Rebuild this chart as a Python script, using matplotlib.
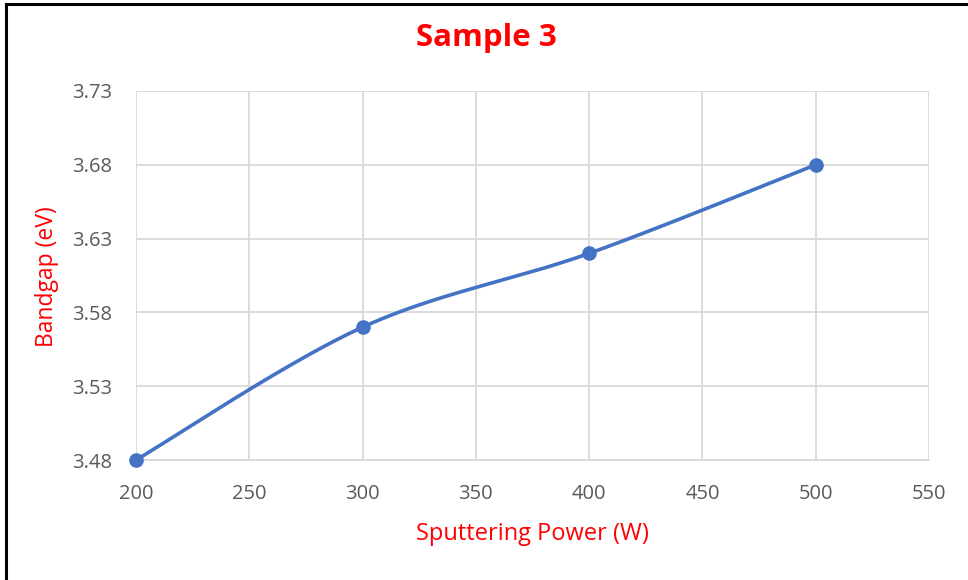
import numpy as np
import matplotlib
matplotlib.use("Agg")
import matplotlib.pyplot as plt
from matplotlib.lines import Line2D

# Data
power_w = [200, 300, 400, 500]
bandgap_ev = [3.48, 3.57, 3.62, 3.68]
x_ticks = [200, 250, 300, 350, 400, 450, 500, 550]
y_ticks = [3.48, 3.53, 3.58, 3.63, 3.68, 3.73]

plt.rcParams['font.family'] = ['Open Sans', 'DejaVu Sans']


def smooth_curve(x, y, steps=60):
    """Catmull-Rom style Bezier smoothing through every point."""
    x = np.asarray(x, float)
    y = np.asarray(y, float)
    n = len(x)
    xs, ys = [], []
    for i in range(n - 1):
        p0 = np.array([x[max(i - 1, 0)], y[max(i - 1, 0)]])
        p1 = np.array([x[i], y[i]])
        p2 = np.array([x[i + 1], y[i + 1]])
        p3 = np.array([x[min(i + 2, n - 1)], y[min(i + 2, n - 1)]])
        c1 = p1 + (p2 - p0) / 6.0
        c2 = p2 - (p3 - p1) / 6.0
        t = np.linspace(0, 1, steps)[:, None]
        pts = ((1 - t) ** 3) * p1 + 3 * ((1 - t) ** 2) * t * c1 \
            + 3 * (1 - t) * t ** 2 * c2 + t ** 3 * p2
        xs.extend(pts[:, 0])
        ys.extend(pts[:, 1])
    return np.array(xs), np.array(ys)


W, H = 968, 580
fig = plt.figure(figsize=(W / 100, H / 100), dpi=100)
ax = fig.add_axes([136 / W, 1 - 460 / H, (929 - 136) / W, (460 - 91) / H])

line_color = '#4472C4'
sx, sy = smooth_curve(power_w, bandgap_ev)
ax.plot(sx, sy, color=line_color, lw=2.6, solid_capstyle='round', zorder=3, clip_on=False)
ax.plot(power_w, bandgap_ev, 'o', color=line_color, ms=9.5, zorder=4, clip_on=False)

ax.set_xlim(200, 550)
ax.set_ylim(3.48, 3.73)
ax.set_xticks(x_ticks)
ax.set_yticks(y_ticks)
ax.set_xticklabels([str(v) for v in x_ticks])
ax.set_yticklabels([f"{v:.2f}" for v in y_ticks])

ax.grid(True, color='#D9D9D9', lw=1.3)
ax.set_axisbelow(True)
for side in ['top', 'right', 'left']:
    ax.spines[side].set_visible(False)
ax.spines['bottom'].set_color('#D9D9D9')
ax.spines['bottom'].set_linewidth(1.3)
ax.tick_params(length=0, labelsize=14.5, colors='#595959')
ax.tick_params(axis='y', pad=17)
ax.tick_params(axis='x', pad=17)

# Axis titles and chart title
fig.text(532 / W, 1 - 534 / H, 'Sputtering Power (W)', color='red', fontsize=17,
         ha='center', va='center')
fig.text(47 / W, 1 - 277 / H, 'Bandgap (eV)', color='red', fontsize=16.5,
         ha='center', va='center', rotation=90)
fig.text(486 / W, 1 - 38 / H, 'Sample 3', color='red', fontsize=22.5,
         fontweight='bold', ha='center', va='center')

# Frame edges at top and left
fig.add_artist(Line2D([6 / W, 1.0], [1 - 4 / H, 1 - 4 / H], color='black', lw=2.2,
                      transform=fig.transFigure))
fig.add_artist(Line2D([6 / W, 6 / W], [0.0, 1 - 4 / H], color='black', lw=2.2,
                      transform=fig.transFigure))

fig.savefig('out.png', dpi=100)
